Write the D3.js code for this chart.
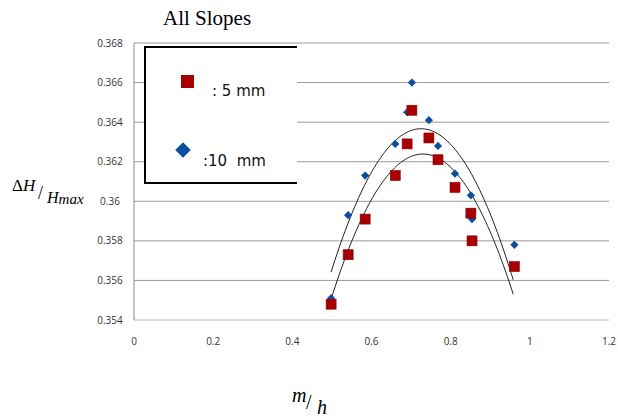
<!DOCTYPE html>
<html>
<head>
<meta charset="utf-8">
<script src="https://cdn.jsdelivr.net/npm/d3@7"></script>
<style>
  body { margin: 0; background: #fff; }
  svg { display: block; }
</style>
</head>
<body>
<svg width="618" height="420"></svg>
<script>
// slope ratio m/h (shared by both series)
var slopes = [0.498, 0.541, 0.584, 0.660, 0.690, 0.702, 0.745, 0.768, 0.811, 0.851, 0.854, 0.961];
// dH/Hmax for 5 mm
var mm5 = [0.3548, 0.3573, 0.3591, 0.3613, 0.3629, 0.3646, 0.3632, 0.3621, 0.3607, 0.3594, 0.3580, 0.3567];
// dH/Hmax for 10 mm
var mm10 = [0.3551, 0.3593, 0.3613, 0.3629, 0.3645, 0.3660, 0.3641, 0.3628, 0.3614, 0.3603, 0.3591, 0.3578];
var xTicks = [0, 0.2, 0.4, 0.6, 0.8, 1, 1.2];
var yTicks = [0.354, 0.356, 0.358, 0.36, 0.362, 0.364, 0.366, 0.368];

var svg = d3.select('svg');
var pLeft = 134, pRight = 609, pTop = 43, pBottom = 320;

var x = d3.scaleLinear().domain([0, 1.2]).range([pLeft, pRight]);
var y = d3.scaleLinear().domain([0.354, 0.368]).range([pBottom, pTop]);

// gridlines
svg.append('g').selectAll('line')
  .data(yTicks)
  .enter().append('line')
  .attr('x1', pLeft).attr('x2', pRight)
  .attr('y1', function(d){ return y(d); })
  .attr('y2', function(d){ return y(d); })
  .attr('stroke', function(d){ return d === 0.354 ? '#b8b8b8' : '#9a9a9a'; })
  .attr('stroke-width', 1);

svg.append('line')
  .attr('x1', pLeft).attr('x2', pLeft)
  .attr('y1', pTop).attr('y2', pBottom)
  .attr('stroke', '#8a8a8a');

// tick labels
svg.append('g').selectAll('text')
  .data(yTicks)
  .enter().append('text')
  .attr('x', 110)
  .attr('y', function(d){ return y(d) + 3.5; })
  .attr('text-anchor', 'middle')
  .style('font', '10px "Open Sans"')
  .attr('fill', '#333')
  .text(function(d){ return +d.toFixed(3); });

svg.append('g').selectAll('text')
  .data(xTicks)
  .enter().append('text')
  .attr('x', function(d){ return x(d); })
  .attr('y', 345)
  .attr('text-anchor', 'middle')
  .style('font', '10px "Open Sans"')
  .attr('fill', '#333')
  .text(function(d){ return d; });

// quadratic least squares, like the excel trendline
function polyFit(xs, ys) {
  var s = [0, 0, 0, 0, 0], t = [0, 0, 0];
  xs.forEach(function(xi, i) {
    for (var k = 0; k < 5; k++) s[k] += Math.pow(xi, k);
    for (var k2 = 0; k2 < 3; k2++) t[k2] += ys[i] * Math.pow(xi, k2);
  });
  var m = [[s[0], s[1], s[2], t[0]], [s[1], s[2], s[3], t[1]], [s[2], s[3], s[4], t[2]]];
  for (var i = 0; i < 3; i++) {
    for (var j = i + 1; j < 3; j++) {
      var f = m[j][i] / m[i][i];
      for (var c = i; c < 4; c++) m[j][c] -= f * m[i][c];
    }
  }
  var b = [0, 0, 0];
  for (var r = 2; r >= 0; r--) {
    var v = m[r][3];
    for (var c2 = r + 1; c2 < 3; c2++) v -= m[r][c2] * b[c2];
    b[r] = v / m[r][r];
  }
  return b;
}

var line = d3.line()
  .x(function(d){ return x(d[0]); })
  .y(function(d){ return y(d[1]); });

[mm10, mm5].forEach(function(series) {
  var b = polyFit(slopes, series);
  var xs = d3.range(slopes[0], slopes[slopes.length - 1] + 0.0001, 0.005);
  svg.append('path')
    .datum(xs.map(function(v){ return [v, b[0] + b[1] * v + b[2] * v * v]; }))
    .attr('d', line)
    .attr('fill', 'none')
    .attr('stroke', '#222')
    .attr('stroke-width', 1);
});

// 10 mm diamonds
svg.append('g').selectAll('path')
  .data(slopes)
  .enter().append('path')
  .attr('d', d3.symbol().type(d3.symbolSquare).size(34))
  .attr('transform', function(d, i){ return 'translate(' + x(d) + ',' + y(mm10[i]) + ') rotate(45)'; })
  .attr('fill', '#0c4ea0');

// 5 mm squares
svg.append('g').selectAll('rect')
  .data(slopes)
  .enter().append('rect')
  .attr('x', function(d){ return x(d) - 5; })
  .attr('y', function(d, i){ return y(mm5[i]) - 5; })
  .attr('width', 10).attr('height', 10)
  .attr('fill', '#a80000')
  .attr('stroke', '#8a0000')
  .attr('stroke-width', 0.6);

// legend box (right edge cut off)
var lg = svg.append('g');
lg.append('rect')
  .attr('x', 145).attr('y', 47).attr('width', 152).attr('height', 136)
  .attr('fill', '#fff');
lg.append('path')
  .attr('d', 'M297,47 H145 V183 H297')
  .attr('fill', 'none')
  .attr('stroke', '#000')
  .attr('stroke-width', 2);
lg.append('rect')
  .attr('x', 181).attr('y', 75).attr('width', 13).attr('height', 13)
  .attr('fill', '#a80000');
lg.append('path')
  .attr('d', d3.symbol().type(d3.symbolSquare).size(120))
  .attr('transform', 'translate(183,150) rotate(45)')
  .attr('fill', '#0c4ea0');
lg.append('text')
  .attr('x', 212).attr('y', 96)
  .style('font', '15px "DejaVu Sans"')
  .style('white-space', 'pre')
  .attr('fill', '#111')
  .text(': 5 mm');
lg.append('text')
  .attr('x', 203).attr('y', 166)
  .style('font', '15px "DejaVu Sans"')
  .style('white-space', 'pre')
  .attr('fill', '#111')
  .text(':10  mm');

// title
svg.append('text')
  .attr('x', 163).attr('y', 25)
  .style('font-family', '"Liberation Serif", serif')
  .style('font-size', '21px')
  .attr('fill', '#000')
  .text('All Slopes');

// y axis label  dH / Hmax
var yl = svg.append('text')
  .style('font-family', '"Liberation Serif", serif')
  .attr('fill', '#000');
yl.append('tspan').attr('x', 12).attr('y', 191).style('font-size', '17px').text('Δ');
yl.append('tspan').style('font-size', '17px').style('font-style', 'italic').text('H');
yl.append('tspan').attr('x', 38).attr('y', 199).style('font-size', '18px').text('/');
yl.append('tspan').attr('x', 47).attr('y', 203).style('font-size', '16px').style('font-style', 'italic').text('H');
yl.append('tspan').attr('y', 204).style('font-size', '15px').style('font-style', 'italic').text('max');

// x axis label  m / h
var xl = svg.append('text')
  .style('font-family', '"Liberation Serif", serif')
  .attr('fill', '#000');
xl.append('tspan').attr('x', 292).attr('y', 402).style('font-size', '20px').style('font-style', 'italic').text('m');
xl.append('tspan').attr('x', 306).attr('y', 409).style('font-size', '20px').text('/');
xl.append('tspan').attr('x', 317).attr('y', 414).style('font-size', '20px').style('font-style', 'italic').text('h');
</script>
</body>
</html>
